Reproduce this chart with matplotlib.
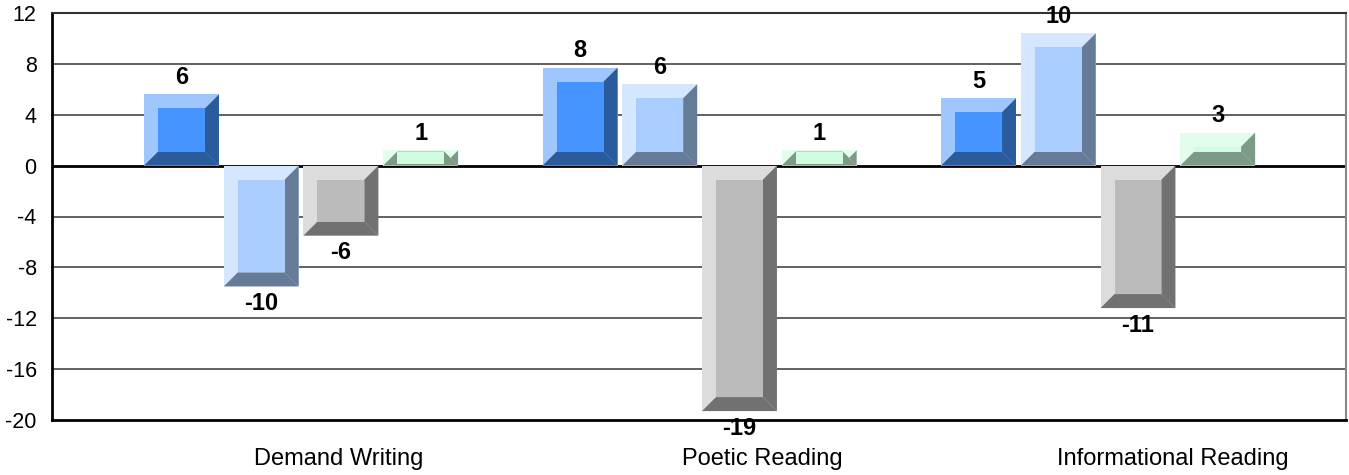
import numpy as np
import matplotlib
matplotlib.use("Agg")
import matplotlib.pyplot as plt
from matplotlib.patches import Polygon, Rectangle

plt.rcParams['font.family'] = ['Liberation Sans', 'DejaVu Sans']

categories = ["Demand Writing", "Poetic Reading", "Informational Reading"]
# one list per series (4 series, 3 categories)
series_1 = [5.6, 7.7, 5.3]
series_2 = [-9.5, 6.4, 10.4]
series_3 = [-5.5, -19.3, -11.2]
series_4 = [1.2, 1.2, 2.6]
labels_1 = ["6", "8", "5"]
labels_2 = ["-10", "6", "10"]
labels_3 = ["-6", "-19", "-11"]
labels_4 = ["1", "1", "3"]
yticks = [12, 8, 4, 0, -4, -8, -12, -16, -20]

series = [series_1, series_2, series_3, series_4]
labels = [labels_1, labels_2, labels_3, labels_4]
# (light face, inner, dark face)
colors = [("#9fc7fd", "#4594ff", "#2a5b9d"),
          ("#d5e6ff", "#aacdff", "#667b98"),
          ("#dcdcdc", "#bbbbbb", "#717171"),
          ("#e3fdec", "#d0fce0", "#7d9a86")]

W, H, DPI = 1349, 475, 100
fig = plt.figure(figsize=(W / DPI, H / DPI), dpi=DPI)
ax_l, ax_b, ax_r, ax_t = 52, 420, 1346, 13
ax = fig.add_axes([ax_l / W, 1 - ax_b / H, (ax_r - ax_l) / W, (ax_b - ax_t) / H])

xlim = (-0.625, 2.622)
ylim = (-20, 12)
ax.set_xlim(*xlim)
ax.set_ylim(*ylim)

# bevel size: 14 px converted to data units
bx = 14 * (xlim[1] - xlim[0]) / (ax_r - ax_l)
by = 14 * (ylim[1] - ylim[0]) / (ax_b - ax_t)

step = 0.2
width = 0.188
x = np.arange(len(categories))

for k, vals in enumerate(series):
    light, inner, dark = colors[k]
    for i, v in enumerate(vals):
        xc = x[i] + (k - 1.5) * step
        x0, x1 = xc - width / 2, xc + width / 2
        y0, y1 = min(0, v), max(0, v)
        ax.add_patch(Rectangle((x0, y0), width, y1 - y0, facecolor=light,
                               edgecolor="none", zorder=3))
        right = [(x1, y0), (x1, y1), (x1 - bx, y1 - by), (x1 - bx, y0 + by)]
        bottom = [(x0, y0), (x1, y0), (x1 - bx, y0 + by), (x0 + bx, y0 + by)]
        ax.add_patch(Polygon(right, closed=True, facecolor=dark,
                             edgecolor="none", zorder=3))
        ax.add_patch(Polygon(bottom, closed=True, facecolor=dark,
                             edgecolor="none", zorder=3))
        ax.add_patch(Rectangle((x0 + bx, y0 + by), width - 2 * bx,
                               (y1 - y0) - 2 * by, facecolor=inner,
                               edgecolor="none", zorder=3))
        off = 12.3 if v >= 0 else -12.3
        ax.annotate(labels[k][i], (xc, v), xytext=(0, off),
                    textcoords="offset points", ha="center", va="center",
                    fontsize=17, fontweight="bold", zorder=5,
                    annotation_clip=False)

for t in yticks:
    if t in (0, ylim[0], ylim[1]):
        continue
    ax.axhline(t, color="#555555", lw=1.3, zorder=1)
ax.axhline(0, color="black", lw=2, zorder=2)

ax.set_yticks(yticks)
ax.set_yticklabels([str(t) for t in yticks])
label_shift = [0.095, 0.157, 0.188]
ax.set_xticks(x + np.array(label_shift))
ax.set_xticklabels(categories)
ax.tick_params(axis="y", length=0, pad=11, labelsize=15.5)
ax.tick_params(axis="x", length=0, pad=20, labelsize=17)

ax.spines["left"].set_linewidth(2)
ax.spines["bottom"].set_linewidth(2)
ax.spines["top"].set_color("#333333")
ax.spines["top"].set_linewidth(1.5)
ax.spines["right"].set_color("#888888")
ax.spines["right"].set_linewidth(1.5)

fig.savefig("out.png", dpi=DPI)
